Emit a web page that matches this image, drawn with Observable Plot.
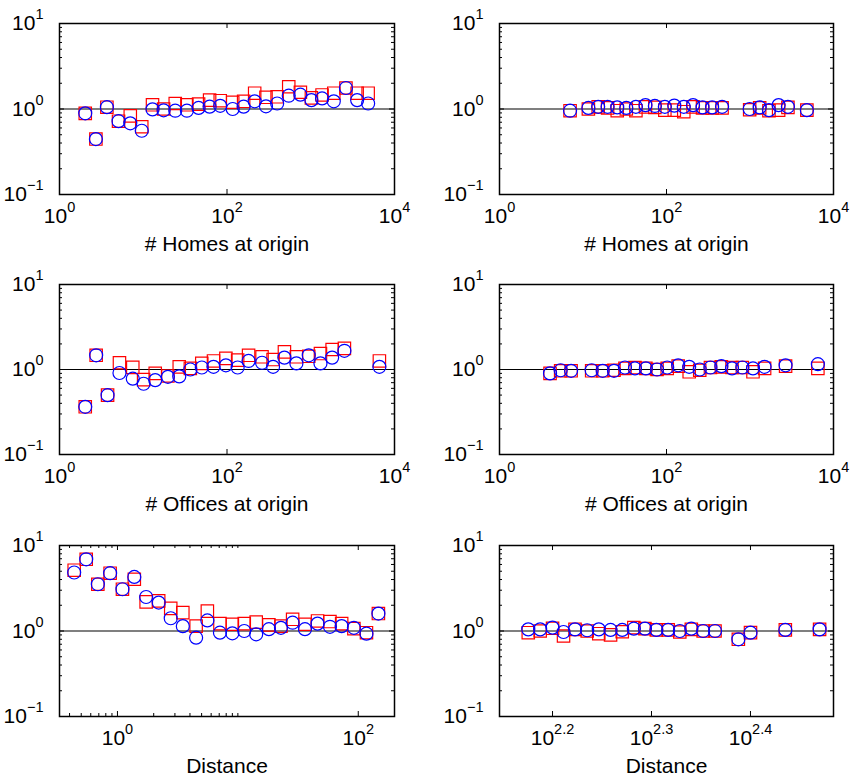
<!DOCTYPE html>
<html><head><meta charset="utf-8">
<script src="https://cdn.jsdelivr.net/npm/d3@7"></script>
<script src="https://cdn.jsdelivr.net/npm/@observablehq/plot@0.6"></script>
<style>
body{margin:0;background:#fff;}
#chart{position:relative;width:850px;height:780px;font-family:"Liberation Sans",Arial,sans-serif;}
#chart > div, #chart > svg{position:absolute;}
</style></head><body><div id="chart"></div>
<script>
// ---------- data ----------
const homesAX    = [2.03, 2.72, 3.68, 5.07, 7.0, 9.6, 12.9, 17.5, 24.1, 33.2, 45.8, 62, 83, 117, 158, 214, 292, 397, 546, 752, 1018, 1365, 1884, 2632, 3580, 4845];
const homesARed  = [0.89, 0.445, 1.05, 0.72, 0.83, 0.62, 1.12, 1.0, 1.16, 1.12, 1.14, 1.27, 1.25, 1.2, 1.23, 1.53, 1.37, 1.39, 1.82, 1.57, 1.35, 1.46, 1.53, 1.76, 1.53, 1.53];
const homesABlue = [0.89, 0.445, 1.05, 0.72, 0.68, 0.557, 0.99, 0.965, 0.955, 0.955, 1.03, 1.065, 1.09, 1.0, 1.065, 1.23, 1.075, 1.16, 1.43, 1.47, 1.27, 1.33, 1.23, 1.76, 1.27, 1.16];

const homesBX    = [7.0, 11.6, 15.2, 19.7, 25.7, 33, 43, 56, 72.5, 95.5, 124, 161, 208, 270, 352, 463, 991, 1306, 1687, 2202, 2846, 4800];
const homesBRed  = [0.955, 1.0, 1.06, 1.03, 0.955, 1.0, 0.955, 1.06, 1.045, 0.97, 0.97, 0.93, 1.06, 1.03, 1.03, 1.03, 0.98, 1.03, 0.955, 0.97, 1.045, 0.97];
const homesBBlue = [0.955, 1.03, 1.06, 1.06, 1.045, 1.03, 1.06, 1.11, 1.085, 1.06, 1.095, 1.06, 1.11, 1.045, 1.045, 1.06, 1.0, 1.045, 0.97, 1.11, 1.06, 0.97];

const officesAX    = [2.03, 2.74, 3.75, 5.2, 7.5, 10.1, 13.9, 19.7, 26.9, 36.5, 50, 69, 97, 134, 181, 262, 355, 485, 674, 947, 1306, 1800, 2523, 6600];
const officesARed  = [0.364, 1.47, 0.499, 1.2, 1.06, 0.76, 0.9, 0.84, 1.075, 1.03, 1.18, 1.26, 1.35, 1.29, 1.47, 1.41, 1.31, 1.61, 1.41, 1.43, 1.54, 1.72, 1.77, 1.26];
const officesABlue = [0.364, 1.47, 0.499, 0.91, 0.78, 0.68, 0.75, 0.82, 0.83, 1.0, 1.055, 1.075, 1.12, 1.055, 1.26, 1.2, 1.075, 1.38, 1.18, 1.47, 1.18, 1.38, 1.66, 1.075];

const officesBX    = [4.03, 5.4, 7.2, 12.7, 17.2, 23.5, 31.8, 41.9, 56.6, 77, 102, 138, 187, 250, 336, 454, 609, 810, 1086, 1496, 2668, 6500];
const officesBRed  = [0.9, 0.965, 0.965, 0.965, 0.965, 0.98, 1.03, 1.055, 1.03, 1.0, 1.03, 1.095, 0.94, 0.98, 1.055, 1.075, 1.055, 1.055, 0.94, 1.03, 1.095, 1.03];
const officesBBlue = [0.9, 0.98, 0.965, 0.98, 0.965, 0.965, 1.055, 1.03, 1.03, 1.0, 1.055, 1.12, 1.075, 1.0, 1.055, 1.095, 1.03, 1.055, 1.03, 1.075, 1.12, 1.155];

const distAX    = [0.437, 0.55, 0.687, 0.869, 1.1, 1.38, 1.73, 2.2, 2.77, 3.49, 4.5, 5.58, 7.1, 9.0, 11.3, 14.2, 18.1, 22.8, 28.5, 36.1, 45.9, 58.2, 72.8, 92, 117, 147];
const distARed  = [5.14, 6.9, 3.52, 4.74, 3.08, 4.03, 2.19, 2.25, 1.84, 1.64, 1.14, 1.71, 1.22, 1.2, 1.22, 1.27, 1.18, 1.14, 1.37, 1.2, 1.31, 1.29, 1.22, 1.065, 0.955, 1.6];
const distABlue = [4.83, 6.9, 3.52, 4.74, 3.08, 4.29, 2.5, 2.15, 1.41, 1.14, 0.835, 1.33, 0.956, 0.94, 1.0, 0.914, 1.05, 1.09, 1.25, 1.05, 1.22, 1.12, 1.14, 1.09, 0.93, 1.6];

const distBX    = [149.8, 154, 158.5, 162.6, 167, 171.8, 176.5, 181.4, 186.4, 191.5, 196.5, 201.8, 207.4, 213.1, 218.9, 225, 231.3, 244.2, 251.2, 272.4, 295];
const distBRed  = [0.955, 1.0, 1.075, 0.874, 1.045, 1.0, 0.93, 0.9, 0.98, 1.095, 1.065, 1.03, 1.03, 0.973, 1.045, 1.0, 1.0, 0.8, 0.956, 1.03, 1.045];
const distBBlue = [1.045, 1.045, 1.095, 0.973, 1.045, 1.02, 1.045, 1.03, 1.03, 1.065, 1.065, 1.03, 1.03, 1.0, 1.065, 1.0, 1.0, 0.8, 0.956, 1.03, 1.045];

// ---------- ticks ----------
const yTickValues = [0.1, 1, 10];
const yTickLabels = ["10^\u22121", "10^0", "10^1"];
const yMinorTicks = [0.2, 0.3, 0.4, 0.5, 0.6, 0.7, 0.8, 0.9, 2, 3, 4, 5, 6, 7, 8, 9];

const countTickValues = [1, 100, 10000];
const countTickLabels = ["10^0", "10^2", "10^4"];
const countMinorTicks = [];

const distTickValues = [1, 100];
const distTickLabels = ["10^0", "10^2"];
const distMinorTicks = [0.4, 0.5, 0.6, 0.7, 0.8, 0.9, 2, 3, 4, 5, 6, 7, 8, 9, 10];

const dist2TickValues = [Math.pow(10, 2.2), Math.pow(10, 2.3), Math.pow(10, 2.4)];
const dist2TickLabels = ["10^2.2", "10^2.3", "10^2.4"];
const dist2MinorTicks = [];

const xLabels = ["# Homes at origin", "# Homes at origin", "# Offices at origin", "# Offices at origin", "Distance", "Distance"];

// ---------- panels ----------
const W = 425, H = 260;
const panels = [
  {x: homesAX,   red: homesARed,   blue: homesABlue,   dom: [1, 10000], tv: countTickValues, tl: countTickLabels, minor: countMinorTicks, row: 0, col: 0},
  {x: homesBX,   red: homesBRed,   blue: homesBBlue,   dom: [1, 10000], tv: countTickValues, tl: countTickLabels, minor: countMinorTicks, row: 0, col: 1},
  {x: officesAX, red: officesARed, blue: officesABlue, dom: [1, 10000], tv: countTickValues, tl: countTickLabels, minor: countMinorTicks, row: 1, col: 0},
  {x: officesBX, red: officesBRed, blue: officesBBlue, dom: [1, 10000], tv: countTickValues, tl: countTickLabels, minor: countMinorTicks, row: 1, col: 1},
  {x: distAX,    red: distARed,    blue: distABlue,    dom: [0.33, 200], tv: distTickValues, tl: distTickLabels, minor: distMinorTicks, row: 2, col: 0},
  {x: distBX,    red: distBRed,    blue: distBBlue,    dom: [140.1, 304.7], tv: dist2TickValues, tl: dist2TickLabels, minor: dist2MinorTicks, row: 2, col: 1}
];
const rowMargins = [{t: 23, b: 66}, {t: 24, b: 66}, {t: 25, b: 64}];
const colMargins = [{l: 59, r: 31}, {l: 74, r: 17}];

const container = document.getElementById("chart");

panels.forEach((p, k) => {
  const m = {...rowMargins[p.row], ...colMargins[p.col]};
  const fw = W - m.l - m.r, fh = H - m.t - m.b;
  const redData = p.x.map((x, i) => ({x, y: p.red[i]}));
  const blueData = p.x.map((x, i) => ({x, y: p.blue[i]}));
  const svg = Plot.plot({
    width: W, height: H,
    marginLeft: m.l, marginRight: m.r, marginTop: m.t, marginBottom: m.b,
    x: {type: "log", domain: p.dom},
    y: {type: "log", domain: [0.1, 10]},
    style: {fontFamily: '"Liberation Sans", Arial, sans-serif', fontSize: "21px", color: "black", background: "white", overflow: "visible"},
    marks: [
      Plot.ruleY([1], {stroke: "black", strokeWidth: 1.2}),
      Plot.dot(redData, {x: "x", y: "y", symbol: "square", r: 7, stroke: "#ff0000", strokeWidth: 1.2, fill: "none"}),
      Plot.dot(blueData, {x: "x", y: "y", symbol: "circle", r: 6.5, stroke: "#0000ff", strokeWidth: 1.2, fill: "none"}),
      // y ticks (inside, both sides)
      Plot.tickY(yMinorTicks, {y: d => d, insetRight: fw - 3, stroke: "black", strokeWidth: 1}),
      Plot.tickY(yMinorTicks, {y: d => d, insetLeft: fw - 3, stroke: "black", strokeWidth: 1}),
      Plot.tickY([1], {y: d => d, insetRight: fw - 5, stroke: "black", strokeWidth: 1}),
      Plot.tickY([1], {y: d => d, insetLeft: fw - 5, stroke: "black", strokeWidth: 1}),
      // x ticks (inside, top and bottom)
      Plot.tickX(p.tv, {x: d => d, insetTop: fh - 5, stroke: "black", strokeWidth: 1}),
      Plot.tickX(p.tv, {x: d => d, insetBottom: fh - 5, stroke: "black", strokeWidth: 1}),
      Plot.tickX(p.minor, {x: d => d, insetTop: fh - 3, stroke: "black", strokeWidth: 1}),
      Plot.tickX(p.minor, {x: d => d, insetBottom: fh - 3, stroke: "black", strokeWidth: 1}),
      Plot.axisY({ticks: yTickValues, tickSize: 0, tickPadding: 16, fontSize: 21, label: null,
                  tickFormat: d => yTickLabels[yTickValues.indexOf(d)]}),
      Plot.axisX({ticks: p.tv, tickSize: 0, tickPadding: 14, fontSize: 21, label: null,
                  tickFormat: d => p.tl[p.tv.indexOf(d)]}),
      Plot.text([xLabels[k]], {text: d => d, frameAnchor: "bottom", dy: 50, fontSize: 21, lineAnchor: "middle"}),
      Plot.frame({stroke: "black", strokeWidth: 1.5})
    ]
  });
  // superscripts for exponents
  svg.querySelectorAll('g[aria-label$="tick label"] text').forEach(t => {
    const parts = t.textContent.split("^");
    if (parts.length === 2) {
      t.textContent = parts[0];
      const ts = document.createElementNS("http://www.w3.org/2000/svg", "tspan");
      ts.setAttribute("dy", "-11");
      ts.setAttribute("font-size", "14.5");
      ts.textContent = parts[1];
      t.appendChild(ts);
    }
  });
  svg.style.left = (p.col * W) + "px";
  svg.style.top = (p.row * H) + "px";
  container.appendChild(svg);
});
</script>
</body></html>
